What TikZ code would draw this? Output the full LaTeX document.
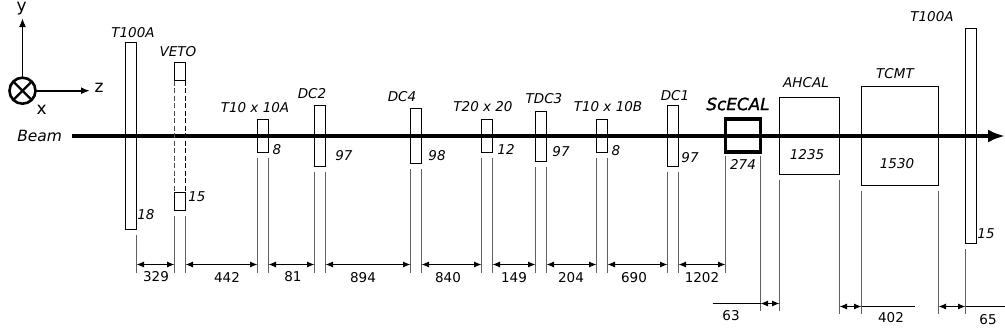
\documentclass[tikz,border=0pt]{standalone}
\usepackage{fontspec}
\setmainfont{DejaVu Sans}
\newfontfamily\scfont[RawFeature={embolden=1.3}]{DejaVu Sans}
\usetikzlibrary{arrows.meta}

\begin{document}
\begin{tikzpicture}[
x=1pt,y=-1pt,
mydet/.style={
  draw,
  line width=1.5pt,
  inner sep=0pt,
  outer sep=0pt
  },
mylabel/.style={
  inner sep=0pt,
  font=\fontsize{13.5}{15}\selectfont\itshape
  },
mydim/.style={
  inner sep=0pt,
  font=\fontsize{13.5}{15}\selectfont
  },
myaxislabel/.style={
  inner sep=0pt,
  font=\fontsize{17}{19}\selectfont
  },
myext/.style={
  draw=black!62,
  line width=1.1pt
  },
myarrow/.style={
  black,
  line width=0.9pt,
  {Latex[length=7.5pt,width=6pt]}-{Latex[length=7.5pt,width=6pt]}
  },
myaxis/.style={
  line width=1.9pt,
  -{Latex[length=9pt,width=7pt]}
  }
]
\useasboundingbox (0,0) rectangle (1005,335);

% beam and axes
\coordinate (beamstart) at (72,136);
\coordinate (beamend) at (1005,136);
\draw[line width=3.8pt,-{Latex[length=17pt,width=13pt]}] (beamstart) -- (beamend);
\node[mylabel,font=\fontsize{15.5}{17}\selectfont\itshape] (beam) at (39.7,136) {Beam};
\node[circle,draw,line width=2.6pt,minimum size=26pt,inner sep=0pt,outer sep=0pt] (xaxis) at (22.5,90.7) {};
\draw[line width=2.4pt] (xaxis.45) -- (xaxis.225);
\draw[line width=2.4pt] (xaxis.135) -- (xaxis.315);
\coordinate (ytip) at (22.5,18);
\coordinate (ztip) at (90,90.7);
\draw[myaxis] (xaxis.north) -- (ytip);
\draw[myaxis] (xaxis.east) -- (ztip);
\node[myaxislabel] (ylabel) at (21.7,9) {y};
\node[myaxislabel] (xlabel) at (41.7,109.5) {x};
\node[myaxislabel] (zlabel) at (99,88) {z};

% detectors
\foreach \Name/\Left/\Right/\Top/\Bottom in {
  t100a/125.5/136.5/42.5/229.5,
  vetotop/174.5/185.5/62.5/80.5,
  vetobot/174.5/185.5/192.5/210.5,
  tena/257.5/268.5/119.5/152.5,
  dctwo/314.5/325.5/105.5/166.5,
  dcfour/410.5/421.5/108.5/163.5,
  ttwenty/481.5/492.5/119.5/152.5,
  tdcthree/535.5/546.5/111.5/161.5,
  tenb/596.5/607.5/119.5/152.5,
  dcone/667.5/678.5/105.5/166.5,
  ahcal/779.5/839.5/97.5/174.5,
  tcmt/861.5/938.5/86.5/185.5,
  t100b/965.5/976.5/28.5/243.5}
  \node[mydet,minimum width={(\Right-\Left)*1pt},minimum height={(\Bottom-\Top)*1pt}]
    (\Name) at ({(\Left+\Right)/2},{(\Top+\Bottom)/2}) {};
\node[mydet,line width=3.8pt,minimum width=35pt,minimum height=33pt] (scecal) at (743,135.5) {};
\draw[black!70,line width=0.8pt,dash pattern=on 5pt off 2.5pt] (vetotop.south west) -- (vetobot.north west);
\draw[black,line width=0.8pt,dash pattern=on 5pt off 2.5pt] (vetotop.south east) -- (vetobot.north east);

% names and thicknesses
\foreach \Name/\X/\Y/\Text in {
  t100a/133/33/T100A,
  veto/178/52/VETO,
  tena/255/108/T10 x 10A,
  dctwo/312/94/DC2,
  dcfour/402/97/DC4,
  ttwenty/483/107/T20 x 20,
  tdcthree/544/99/TDC3,
  tenb/608/107/T10 x 10B,
  dcone/675/96/DC1,
  ahcal/806/83/AHCAL,
  tcmt/895/74/TCMT,
  t100b/932/17/T100A}
  \node[mylabel] (l\Name) at (\X,\Y) {\Text};
\node[mylabel,font=\fontsize{16.8}{19}\selectfont\scfont\itshape] (lscecal) at (738,104) {ScECAL};
\foreach \Name/\X/\Y/\Text in {
  t100a/146/215/18,
  veto/197/197/15,
  tena/277/150/8,
  dctwo/344/156/97,
  dcfour/437/156/98,
  ttwenty/506/149/12,
  tdcthree/561/152/97,
  tenb/616/151/8,
  dcone/690/158/97,
  scecal/743/164/274,
  ahcal/807/155/1235,
  tcmt/897/164/1530,
  t100b/986/234/15}
  \node[mylabel] (v\Name) at (\X,\Y) {\Text};

% extension lines
\coordinate (lowa) at (0,273);
\coordinate (lowb) at (0,311);
\coordinate (lowc) at (0,314);
\coordinate (dima) at (0,264.5);
\coordinate (dimb) at (0,303.5);
\coordinate (dimc) at (0,306.5);
\foreach \Name in {vetobot,tena,dctwo,dcfour,ttwenty,tdcthree,tenb,dcone} {
  \draw[myext] ([yshift=-5.5pt]\Name.south west) -- (\Name.south west |- lowa);
  \draw[myext] ([yshift=-5.5pt]\Name.south east) -- (\Name.south east |- lowa);
}
\draw[myext] ([yshift=-5.5pt]t100a.south east) -- (t100a.south east |- lowa);
\draw[myext] ([yshift=-3.5pt]scecal.south west) -- (scecal.south west |- lowa);
\draw[myext] ([yshift=-3.5pt]scecal.south east) -- (scecal.south east |- lowb);
\draw[myext] ([yshift=-5.5pt]ahcal.south west) -- (ahcal.south west |- lowb);
\draw[myext] ([yshift=-5.5pt]ahcal.south east) -- (ahcal.south east |- lowc);
\draw[myext] ([yshift=-5.5pt]tcmt.south west) -- (tcmt.south west |- lowc);
\draw[myext] ([yshift=-5.5pt]tcmt.south east) -- (tcmt.south east |- lowc);
\draw[myext] ([yshift=-5.5pt]t100b.south west) -- (t100b.south west |- lowc);

% distances
\foreach \From/\To in {t100a/vetobot,vetobot/tena,tena/dctwo,dctwo/dcfour,dcfour/ttwenty,
  ttwenty/tdcthree,tdcthree/tenb,tenb/dcone,dcone/scecal}
  \draw[myarrow] (\From.south east |- dima) -- (\To.south west |- dima);
\draw[myarrow] (scecal.south east |- dimb) -- (ahcal.south west |- dimb);
\draw[myarrow] (ahcal.south east |- dimc) -- (tcmt.south west |- dimc);
\draw[myarrow] (tcmt.south east |- dimc) -- (t100b.south west |- dimc);
\coordinate (taila) at (712.7,303.5);
\coordinate (tailb) at (915,306.5);
\coordinate (tailc) at (1005,306.5);
\draw[line width=0.9pt] (taila) -- (scecal.south east |- dimb);
\draw[line width=0.9pt] (tcmt.south west |- dimc) -- (tailb);
\draw[line width=0.9pt] (t100b.south west |- dimc) -- (tailc);
\foreach \Name/\X/\Y/\Text in {
  a/156/277/329,
  b/227/277/442,
  c/293/277/81,
  d/363/277.7/894,
  e/448/277.7/840,
  f/514/277.7/149,
  g/571/277.7/204,
  h/634/277.7/690,
  i/702/277.5/1202,
  j/731/316/63,
  k/891/318/402,
  l/988/320/65}
  \node[mydim] (d\Name) at (\X,\Y) {\Text};
\end{tikzpicture}
\end{document}
